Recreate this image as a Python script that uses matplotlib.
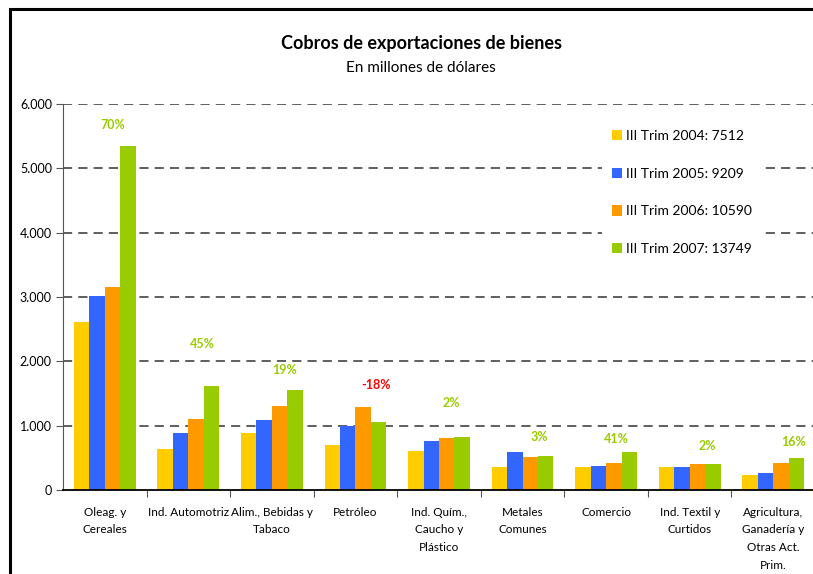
import numpy as np
import matplotlib
matplotlib.use("Agg")
from matplotlib import pyplot as plt
from matplotlib.patches import Rectangle
from matplotlib.ticker import FuncFormatter

plt.rcParams['font.family'] = ['Lato', 'DejaVu Sans']

categories = ["Oleag. y\nCereales", "Ind. Automotriz", "Alim., Bebidas y\nTabaco",
              "Petróleo", "Ind. Quím.,\nCaucho y\nPlástico", "Metales\nComunes",
              "Comercio", "Ind. Textil y\nCurtidos",
              "Agricultura,\nGanadería y\nOtras Act.\nPrim."]

series_names = ["III Trim 2004: 7512", "III Trim 2005: 9209",
                "III Trim 2006: 10590", "III Trim 2007: 13749"]

trim_2004 = [2615, 640, 890, 700, 607, 358, 358, 358, 233]
trim_2005 = [3015, 885, 1090, 1000, 762, 591, 373, 358, 264]
trim_2006 = [3155, 1100, 1306, 1290, 809, 513, 420, 404, 425]
trim_2007 = [5355, 1620, 1555, 1057, 824, 529, 591, 410, 498]

variacion = ["70%", "45%", "19%", "-18%", "2%", "3%", "41%", "2%", "16%"]

# where the % labels sit (layout, not data)
label_x_off = [0.09, 0.17, 0.15, 0.24, 0.15, 0.20, 0.12, 0.21, 0.24]
label_y = [5680, 2270, 1870, 1630, 1360, 830, 800, 690, 750]

colors = ["#FFCC00", "#3366FF", "#FF9900", "#99CC00"]

fig = plt.figure(figsize=(8.13, 5.74), dpi=100)
ax = fig.add_axes([0.0775, 0.1463, 0.925, 0.6725])

x = np.arange(len(categories))
w = 0.185
for i, vals in enumerate([trim_2004, trim_2005, trim_2006, trim_2007]):
    ax.bar(x + (i - 1.5) * w, vals, width=w, color=colors[i],
           label=series_names[i], zorder=3)

for k, txt in enumerate(variacion):
    c = "#FF0000" if txt.startswith("-") else "#99CC00"
    ax.text(x[k] + label_x_off[k], label_y[k], txt, color=c, fontsize=9,
            fontweight="bold", ha="center", va="center", zorder=4)

ax.set_xlim(-0.5, len(categories) - 0.5)
ax.set_ylim(0, 6000)
ax.set_yticks(np.arange(0, 6001, 1000))
ax.yaxis.set_major_formatter(FuncFormatter(lambda v, p: f"{int(v):,}".replace(",", ".")))
ax.tick_params(axis="y", labelsize=9, length=5, color="#555555", pad=3)

# category labels between boundary ticks
ax.set_xticks(np.arange(len(categories) - 1) + 0.5)
ax.set_xticklabels([])
ax.tick_params(axis="x", length=5, color="#555555")
ax.set_xticks(x, minor=True)
ax.set_xticklabels(categories, minor=True, fontsize=8.5, linespacing=1.75, va="top")
ax.tick_params(axis="x", which="minor", length=0, pad=12)

for yv in np.arange(1000, 6001, 1000):
    ax.axhline(yv, color="#333333", lw=1.1, ls=(0, (6, 4)), zorder=1)

ax.spines["top"].set_visible(False)
ax.spines["right"].set_visible(False)
ax.spines["left"].set_color("#555555")
ax.spines["bottom"].set_color("black")
ax.spines["bottom"].set_linewidth(1.3)
ax.spines["bottom"].set_zorder(5)

leg = ax.legend(loc="upper left", bbox_to_anchor=(0.713, 0.965), frameon=True,
                fontsize=10, labelspacing=1.85, handlelength=0.75,
                handleheight=0.75, handletextpad=0.3, borderpad=0.7,
                borderaxespad=0.2)
leg.get_frame().set_facecolor("white")
leg.get_frame().set_edgecolor("none")
leg.get_frame().set_alpha(1)
leg.set_zorder(6)

fig.text(0.518, 0.925, "Cobros de exportaciones de bienes", ha="center",
         va="center", fontsize=13, fontweight="bold")
fig.text(0.518, 0.881, "En millones de dólares", ha="center", va="center",
         fontsize=11)

# outer frame, cut off at right and bottom like the source
fig.patches.append(Rectangle((10 / 813, -0.05), 1.2, 1 - 9 / 574 + 0.05,
                             transform=fig.transFigure, fill=False,
                             edgecolor="black", lw=2.2))

fig.savefig("out.png", dpi=100)
